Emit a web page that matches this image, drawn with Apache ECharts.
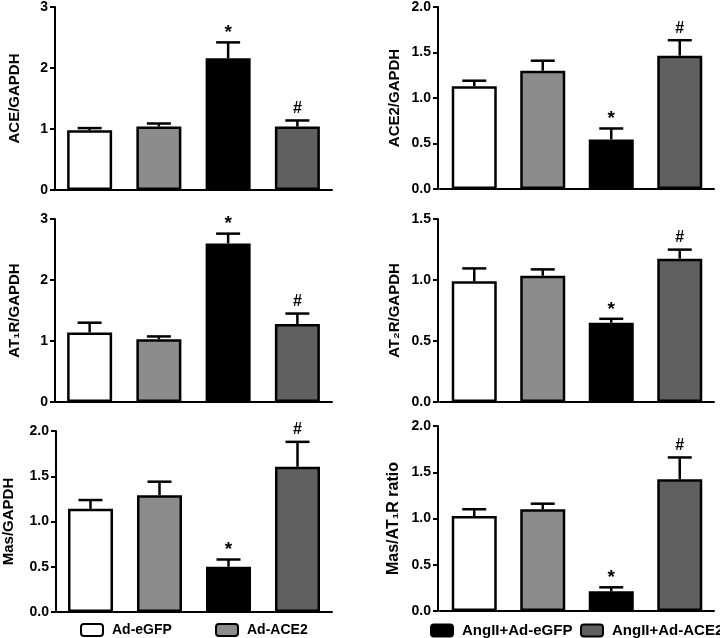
<!DOCTYPE html>
<html><head><meta charset="utf-8">
<script src="https://cdn.jsdelivr.net/npm/echarts@6/dist/echarts.min.js"></script>
<style>html,body{margin:0;padding:0;background:#fff}#c{width:720px;height:638px}</style>
</head><body><div id="c"></div>
<script>
// ---- data ----
const groups = ['Ad-eGFP', 'Ad-ACE2', 'AngII+Ad-eGFP', 'AngII+Ad-ACE2'];
const marks = ['', '', '*', '#'];

const aceMean = [0.98, 1.04, 2.16, 1.04];
const aceErr = [0.035, 0.05, 0.26, 0.10];
const ace2Mean = [1.13, 1.30, 0.545, 1.465];
const ace2Err = [0.06, 0.11, 0.12, 0.17];
const at1rMean = [1.14, 1.03, 2.60, 1.28];
const at1rErr = [0.16, 0.045, 0.16, 0.17];
const at2rMean = [0.99, 1.035, 0.65, 1.175];
const at2rErr = [0.105, 0.052, 0.032, 0.074];
const masMean = [1.14, 1.29, 0.50, 1.605];
const masErr = [0.097, 0.15, 0.08, 0.275];
const ratioMean = [1.027, 1.10, 0.213, 1.424];
const ratioErr = [0.073, 0.06, 0.043, 0.236];

const yTitles = ['ACE/GAPDH', 'ACE2/GAPDH', 'AT\u2081R/GAPDH', 'AT\u2082R/GAPDH', 'Mas/GAPDH', 'Mas/AT\u2081R ratio'];
const yMax = [3, 2, 3, 1.5, 2, 2];
const yStep = [1, 0.5, 1, 0.5, 0.5, 0.5];

// ---- styling / layout ----
const FONT = '"Liberation Sans", Arial, sans-serif';
const colors = ['#ffffff', '#8c8c8c', '#000000', '#606060'];
const means = [aceMean, ace2Mean, at1rMean, at2rMean, masMean, ratioMean];
const errs = [aceErr, ace2Err, at1rErr, at2rErr, masErr, ratioErr];
const layout = [
  {left: 55, width: 277, top: 6, height: 184, gap: 33, off: 0, fs: 15},
  {left: 440, width: 274, top: 6, height: 183, gap: 36, off: 2, fs: 15},
  {left: 55, width: 277, top: 219, height: 183, gap: 33, off: 0, fs: 15},
  {left: 440, width: 274, top: 219, height: 183, gap: 36, off: 2, fs: 15},
  {left: 55, width: 277, top: 431, height: 181, gap: 40, off: 0, fs: 15},
  {left: 440, width: 274, top: 426, height: 185, gap: 36, off: 2, fs: 16}
];

const grid = [], xAxis = [], yAxis = [], series = [];
layout.forEach((L, p) => {
  grid.push({left: L.left, top: L.top, width: L.width, height: L.height});
  xAxis.push({
    type: 'category', gridIndex: p, data: groups,
    axisLine: {lineStyle: {color: '#000', width: 2}},
    axisTick: {show: false}, axisLabel: {show: false}
  });
  yAxis.push({
    type: 'value', gridIndex: p, min: 0, max: yMax[p], interval: yStep[p], offset: L.off,
    axisLine: {show: true, lineStyle: {color: '#000', width: 2}},
    axisTick: {show: true, length: 5, lineStyle: {color: '#000', width: 2}},
    splitLine: {show: false},
    axisLabel: {
      color: '#000', fontWeight: 'bold', fontSize: 14, fontFamily: FONT, margin: 7,
      formatter: v => yStep[p] < 1 ? v.toFixed(1) : String(v)
    },
    name: yTitles[p], nameLocation: 'middle', nameRotate: 90, nameGap: L.gap,
    nameTextStyle: {color: '#000', fontWeight: 'bold', fontSize: L.fs, fontFamily: FONT}
  });
  groups.forEach((g, gi) => {
    series.push({
      type: 'bar', name: g, xAxisIndex: p, yAxisIndex: p, stack: 's' + p,
      barWidth: 45,
      data: means[p].map((v, i) => i === gi ? v : '-'),
      itemStyle: {color: colors[gi], borderColor: '#000', borderWidth: 2.5},
      z: 2
    });
  });
  series.push({
    type: 'custom', xAxisIndex: p, yAxisIndex: p, z: 3,
    data: means[p].map((v, i) => [i, v, errs[p][i]]),
    renderItem: (params, api) => {
      const i = api.value(0), m = api.value(1), e = api.value(2);
      const p0 = api.coord([i, m]), p1 = api.coord([i, m + e]);
      const hw = 12;
      const ch = [
        {type: 'line', shape: {x1: p0[0], y1: p0[1], x2: p1[0], y2: p1[1]}, style: {stroke: '#000', lineWidth: 2.5}},
        {type: 'line', shape: {x1: p1[0] - hw, y1: p1[1], x2: p1[0] + hw, y2: p1[1]}, style: {stroke: '#000', lineWidth: 2.5}}
      ];
      const mk = marks[params.dataIndex];
      if (mk) {
        ch.push({type: 'text', x: p1[0], y: p1[1] - (mk === '*' ? 0 : 4),
          style: {text: mk, fill: '#000', fontWeight: 'bold', fontFamily: FONT,
            fontSize: mk === '*' ? 19 : 16, align: 'center', verticalAlign: 'bottom'}});
      }
      return {type: 'group', children: ch};
    }
  });
});

const legendPos = [{left: 80, fs: 14}, {left: 215, fs: 14}, {left: 430, fs: 15}, {left: 580, fs: 15}];
const legend = groups.map((g, gi) => ({
  data: [g], left: legendPos[gi].left, top: 623, padding: 0,
  itemWidth: 22, itemHeight: 12, selectedMode: false,
  itemStyle: {borderColor: '#000', borderWidth: 2},
  textStyle: {color: '#000', fontWeight: 'bold', fontSize: legendPos[gi].fs, fontFamily: FONT, padding: [0, 0, 0, 4]}
}));

const chart = echarts.init(document.getElementById('c'), null, {renderer: 'canvas'});
chart.setOption({animation: false, backgroundColor: '#fff', grid, xAxis, yAxis, series, legend});
</script>
</body></html>
